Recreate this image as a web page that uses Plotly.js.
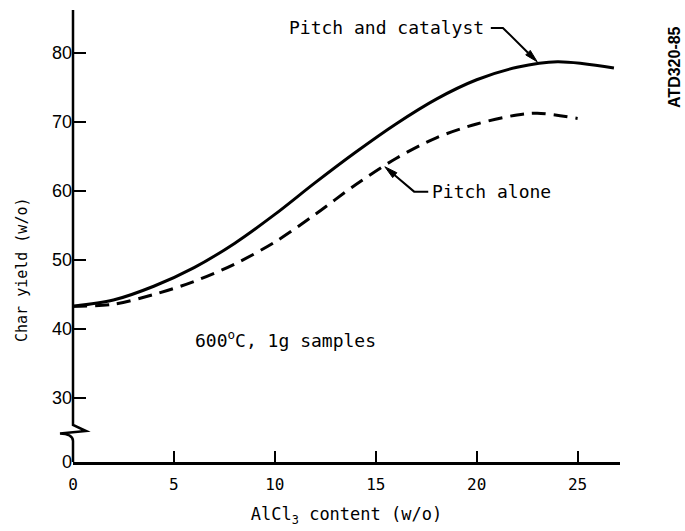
<!DOCTYPE html>
<html>
<head>
<meta charset="utf-8">
<script src="https://cdn.plot.ly/plotly-3.0.1.min.js"></script>
<style>html,body{margin:0;padding:0;background:#fff;}#chart{width:685px;height:531px;}</style>
</head>
<body>
<div id="chart"></div>
<script>
// AlCl3 content (w/o)
const catalystX = [0, 2, 4, 6, 8, 10, 12, 14, 16, 18, 20, 22, 24, 26.8];
// Char yield (w/o), pitch and catalyst
const catalystY = [43.3, 44.2, 46.2, 48.9, 52.4, 56.6, 61.2, 65.6, 69.7, 73.3, 76.1, 77.9, 78.7, 77.8];
// AlCl3 content (w/o)
const aloneX = [0, 2, 4, 6, 8, 10, 12, 14, 16, 18, 20, 22, 23, 25];
// Char yield (w/o), pitch alone
const aloneY = [43.3, 43.6, 45.0, 46.9, 49.4, 52.6, 56.6, 60.9, 64.7, 67.7, 69.7, 71.0, 71.25, 70.5];

const xTickVals = [0, 5, 10, 15, 20, 25];
const xTickText = ["0", "5", "10", "15", "20", "25"];
const yTickVals = [0, 30, 40, 50, 60, 70, 80];
const yTickText = ["0", "30", "40", "50", "60", "70", "80"];

// broken axis: values below the break are drawn at a compressed position
const ZERO_POS = 20.8;
function yPos(v) { return v < 30 ? ZERO_POS : v; }

const mono = "DejaVu Sans Mono, Liberation Mono, monospace";

const XR = [0, 27.1], YR = [20.75, 86.2];

const traces = [
  {x: catalystX, y: catalystY, type: "scatter", mode: "lines", name: "Pitch and catalyst",
   line: {color: "#000", width: 3, shape: "spline", smoothing: 0.9}},
  {x: aloneX, y: aloneY, type: "scatter", mode: "lines", name: "Pitch alone",
   line: {color: "#000", width: 3, dash: "14px,8px", shape: "spline", smoothing: 0.9}}
];

// pixel <-> paper helpers for decorations
const L = 73, R = 65, T = 10, B = 69, W = 685, H = 531;
const PW = W - L - R, PH = H - T - B;
const px = p => (p - L) / PW;
const py = p => (H - B - p) / PH;
const dx = x => L + (x - XR[0]) / (XR[1] - XR[0]) * PW;   // data -> pixel
const dy = y => T + (YR[1] - y) / (YR[1] - YR[0]) * PH;

// leader line with elbow and filled arrowhead, from label (data) to target (data)
function leader(x0, y0, xe, ye, xt, yt) {
  const a = [dx(x0), dy(y0)], e = [dx(xe), dy(ye)], t = [dx(xt), dy(yt)];
  const len = Math.hypot(t[0] - e[0], t[1] - e[1]);
  const u = [(t[0] - e[0]) / len, (t[1] - e[1]) / len];
  const hl = 13, hw = 3.2;
  const b = [t[0] - u[0] * hl, t[1] - u[1] * hl];
  const p1 = [b[0] - u[1] * hw, b[1] + u[0] * hw], p2 = [b[0] + u[1] * hw, b[1] - u[0] * hw];
  return [
    {type: "path", xref: "paper", yref: "paper",
     path: `M ${px(a[0])} ${py(a[1])} L ${px(e[0])} ${py(e[1])} L ${px(b[0])} ${py(b[1])}`,
     line: {color: "#000", width: 2}},
    {type: "path", xref: "paper", yref: "paper",
     path: `M ${px(t[0])} ${py(t[1])} L ${px(p1[0])} ${py(p1[1])} L ${px(p2[0])} ${py(p2[1])} Z`,
     fillcolor: "#000", line: {color: "#000", width: 1}}
  ];
}

const brkPath = `M ${px(73)} ${py(10)} L ${px(73)} ${py(425)} L ${px(86)} ${py(431)} L ${px(60)} ${py(433.5)} Q ${px(73)} ${py(434)} ${px(73)} ${py(441)} L ${px(73)} ${py(462)}`;

const layout = {
  width: W, height: H,
  margin: {l: L, r: R, t: T, b: B},
  paper_bgcolor: "#fff", plot_bgcolor: "#fff",
  showlegend: false,
  xaxis: {
    range: XR, showgrid: false, zeroline: false,
    showline: true, linecolor: "#000", linewidth: 2.5,
    ticks: "inside", ticklen: 11, tickwidth: 2, tickcolor: "#000",
    tickmode: "array", tickvals: xTickVals, ticktext: xTickText,
    ticklabelstandoff: 6,
    tickfont: {family: mono, size: 16, color: "#000"},
    title: {text: "AlCl<sub>3</sub> content (w/o)", font: {family: mono, size: 17, color: "#000"}, standoff: 16}
  },
  yaxis: {
    range: YR, showgrid: false, zeroline: false,
    showline: false,
    ticks: "inside", ticklen: 13, tickwidth: 2, tickcolor: "#000",
    tickmode: "array", tickvals: yTickVals.map(yPos), ticktext: yTickText,
    tickfont: {family: "Liberation Sans, Arial, sans-serif", size: 18, color: "#000"}
  },
  shapes: [
    {type: "path", xref: "paper", yref: "paper", path: brkPath, line: {color: "#000", width: 2.5}},
    ...leader(20.7, 83.6, 21.3, 83.6, 23.0, 78.7),
    ...leader(17.6, 59.9, 16.9, 59.9, 15.45, 63.5)
  ],
  annotations: [
    {text: "Char yield (w/o)", xref: "paper", yref: "paper", x: px(22), y: py(270),
     xanchor: "center", yanchor: "middle",
     textangle: -90, showarrow: false, font: {family: mono, size: 15, color: "#000"}},
    {text: "Pitch and catalyst", xref: "x", yref: "y", x: 10.6, y: 83.6, xanchor: "left", yanchor: "middle",
     showarrow: false, font: {family: mono, size: 18, color: "#000"}},
    {text: "Pitch alone", xref: "x", yref: "y", x: 17.7, y: 59.9, xanchor: "left", yanchor: "middle",
     showarrow: false, font: {family: mono, size: 18, color: "#000"}},
    {text: "600<sup>o</sup>C, 1g samples", xref: "x", yref: "y", x: 5.95, y: 38.5, xanchor: "left", yanchor: "middle",
     showarrow: false, font: {family: mono, size: 18, color: "#000"}},
    {text: "<b>ATD320-85</b>", xref: "paper", yref: "paper", x: px(674), y: py(67),
     xanchor: "center", yanchor: "middle", textangle: -90,
     showarrow: false, font: {family: "Liberation Sans, Arial, sans-serif", size: 16, color: "#000"}}
  ]
};

Plotly.newPlot("chart", traces, layout, {displayModeBar: false, staticPlot: true});
</script>
</body>
</html>
